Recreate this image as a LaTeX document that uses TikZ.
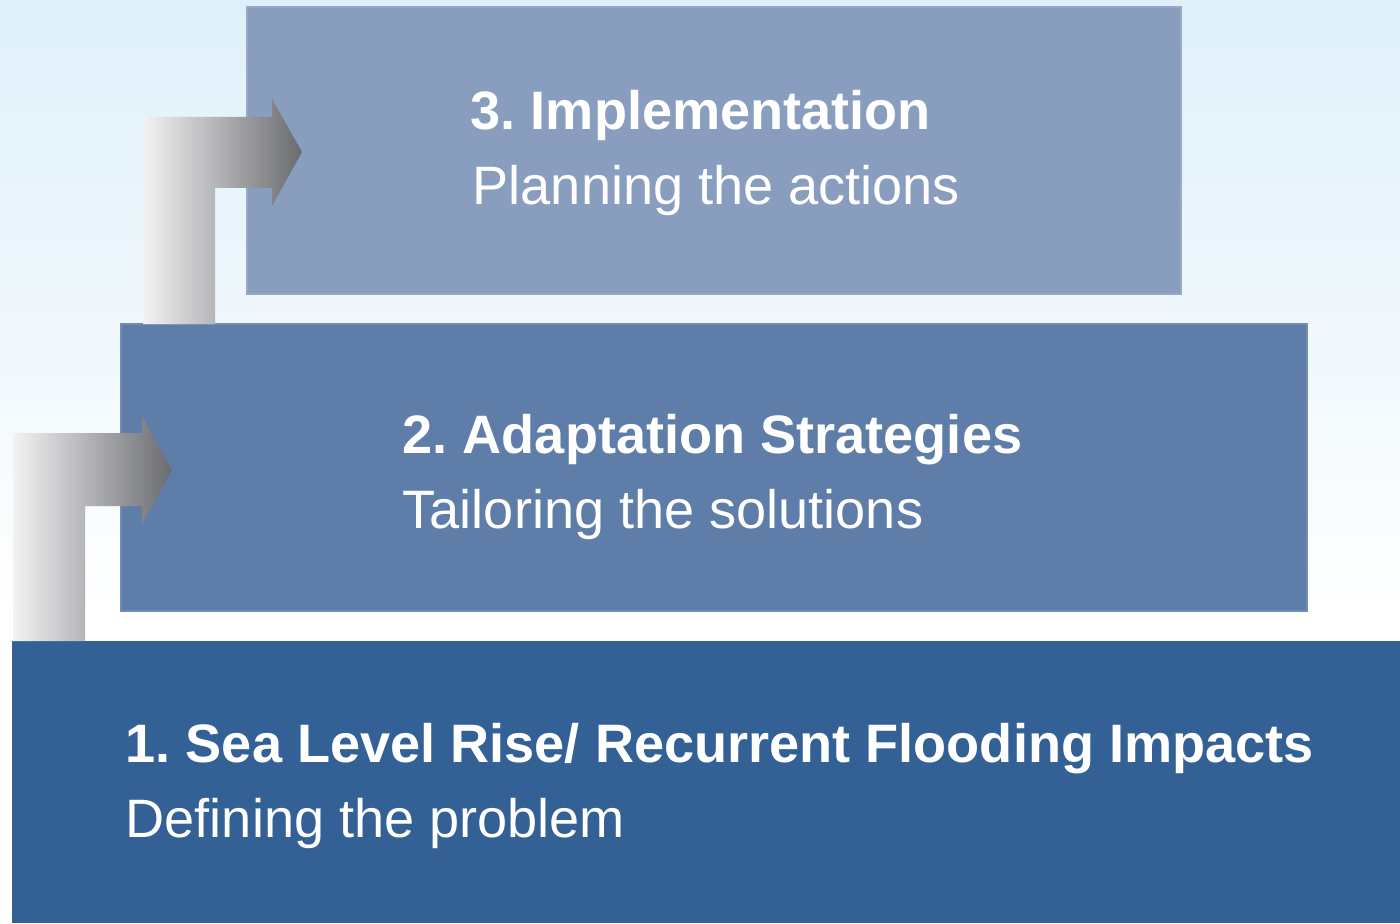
\documentclass[tikz,border=0pt]{standalone}
\usepackage{fontspec}
\setmainfont{Liberation Sans}
\usetikzlibrary{positioning}

\definecolor{bgtop}{HTML}{DFF0FA}
\definecolor{lvlA}{HTML}{336196}
\definecolor{lvlB}{HTML}{5E7DA9}
\definecolor{lvlC}{HTML}{899DBE}
\definecolor{arrlight}{HTML}{F3F3F4}
\definecolor{arrdark}{HTML}{6A6B6F}

\tikzset{
  stufe/.style={inner sep=0pt, outer sep=0pt, minimum height=2.87cm},
  titel/.style={anchor=base west, inner sep=0pt, text=white,
    font=\fontsize{15.4}{18}\selectfont\bfseries\frenchspacing},
  untertitel/.style={anchor=base west, inner sep=0pt, text=white,
    font=\fontsize{15.4}{18}\selectfont\frenchspacing},
}

\begin{document}
\begin{tikzpicture}
	
	% 背景渐变
	\useasboundingbox (0,0) rectangle (14,9.23);
	\fill[white] (0,0) rectangle (14,9.23);
	\shade[top color=bgtop, bottom color=white] (0,3.0) rectangle (14,9.23);
	
	% 三个台阶
	\node[stufe, fill=lvlA, minimum width=13.88cm, minimum height=2.82cm, anchor=south west] (lvl1) at (0.12,0) {};
	\node[stufe, fill=lvlB, draw=lvlB!88!white, line width=0.4pt, minimum width=11.86cm, anchor=south west] (lvl2) at (1.21,3.12) {};
	\node[stufe, fill=lvlC, draw=lvlC!88!white, line width=0.4pt, minimum width=9.34cm, anchor=south west] (lvl3) at (2.47,6.29) {};
	
	% 台阶之间的箭头
	\shade[left color=arrlight, right color=arrdark]
	(0.13,0 |- lvl1.north) -- (0.13,4.90) -- (1.42,4.90) -- (1.42,5.07)
	-- (1.72,4.53) -- (1.42,3.99) -- (1.42,4.17) -- (0.85,4.17)
	-- (0.85,0 |- lvl1.north) -- cycle; % 1 -> 2
	\shade[left color=arrlight, right color=arrdark]
	(1.43,0 |- lvl2.north) -- (1.43,8.06) -- (2.72,8.06) -- (2.72,8.24)
	-- (3.02,7.71) -- (2.72,7.17) -- (2.72,7.35) -- (2.15,7.35)
	-- (2.15,0 |- lvl2.north) -- cycle; % 2 -> 3
	
	% 文字
	\node[titel] (t3) at (4.70,7.93) {3. Implementation};
	\node[untertitel] (s3) at (4.72,7.18) {Planning the actions};
	\node[titel] (t2) at (4.02,4.70) {2. Adaptation Strategies};
	\node[untertitel] (s2) at (4.02,3.95) {Tailoring the solutions};
	\node[titel] (t1) at (1.25,1.61) {1. Sea Level Rise/ Recurrent Flooding Impacts};
	\node[untertitel] (s1) at (1.25,0.86) {Defining the problem};
	
\end{tikzpicture}
\end{document}
